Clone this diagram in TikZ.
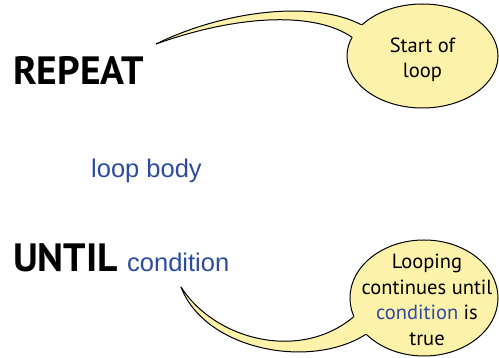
\documentclass[tikz,border=0pt]{standalone}
\usepackage{fontspec}
\setmainfont{PT Sans}
\newfontfamily\codefont{Liberation Sans}
\usetikzlibrary{shapes.geometric,backgrounds}
\definecolor{bubyellow}{RGB}{252,242,170}
\definecolor{codeblue}{RGB}{45,75,160}

\begin{document}
\begin{tikzpicture}[x=1pt, y=-1pt,
    keyword/.style={font=\fontsize{39.5}{42}\selectfont\bfseries, inner sep=0pt, anchor=base west},
    code/.style={font=\codefont\fontsize{25.5}{30}\selectfont, text=codeblue, inner sep=0pt, anchor=base west},
    bubble/.style={ellipse, draw=black, line width=1pt, fill=bubyellow, inner sep=0pt},
    bubtext/.style={align=center, inner sep=0pt, font=\fontsize{20.5}{25.5}\selectfont},
    tailfill/.style={fill=bubyellow},
    tailedge/.style={draw=black, line width=1pt},
    shade/.style={fill=black!18}]
  \useasboundingbox (0,0) rectangle (499,358);

  % the program lines
  \node[keyword] (rep) at (13,85) {REPEAT};
  \node[code] (body) at (91,178) {loop body};
  \node[keyword] (until) at (13,272) {UNTIL};
  \node[code] (cond) at (127,272) {condition};

  % callouts
  \node[bubble, minimum width=151pt, minimum height=104pt] (startbub) at (422.5,56) {};
  \node[bubble, minimum width=148pt, minimum height=116pt] (endbub) at (424,298) {};

  \coordinate (tipA) at (156,44);
  \coordinate (tipB) at (181,287);

  \fill[tailfill] (tipA) .. controls (225,10) and (315,0) .. (startbub.153)
    -- (startbub.center) -- (startbub.165) .. controls (315,12) and (240,14) .. (tipA);
  \draw[tailedge] (tipA) .. controls (225,10) and (315,0) .. (startbub.153);
  \draw[tailedge] (startbub.165) .. controls (315,12) and (240,14) .. (tipA);

  \fill[tailfill] (tipB) .. controls (215,340) and (300,362) .. (endbub.195)
    -- (endbub.center) -- (endbub.212) .. controls (310,370) and (205,350) .. (tipB);
  \draw[tailedge] (tipB) .. controls (215,340) and (300,362) .. (endbub.195);
  \draw[tailedge] (endbub.212) .. controls (310,370) and (205,350) .. (tipB);

  \node[bubtext] (startlbl) at ([yshift=-4pt]startbub.center) {Start of\\loop};
  \node[bubtext] (endlbl) at ([xshift=3pt,yshift=-2pt]endbub.center)
    {Looping\\continues until\\{\color{codeblue}condition} is\\true};

  % soft shadows
  \begin{scope}[on background layer, transform canvas={shift={(2.5pt,-2.5pt)}}]
    \fill[shade] (startbub.center) ellipse [x radius=75.5, y radius=52];
    \fill[shade] (endbub.center) ellipse [x radius=74, y radius=58];
    \fill[shade] (tipA) .. controls (225,10) and (315,0) .. (startbub.153)
      -- (startbub.center) -- (startbub.165) .. controls (315,12) and (240,14) .. (tipA);
    \fill[shade] (tipB) .. controls (215,340) and (300,362) .. (endbub.195)
      -- (endbub.center) -- (endbub.212) .. controls (310,370) and (205,350) .. (tipB);
  \end{scope}
\end{tikzpicture}
\end{document}
